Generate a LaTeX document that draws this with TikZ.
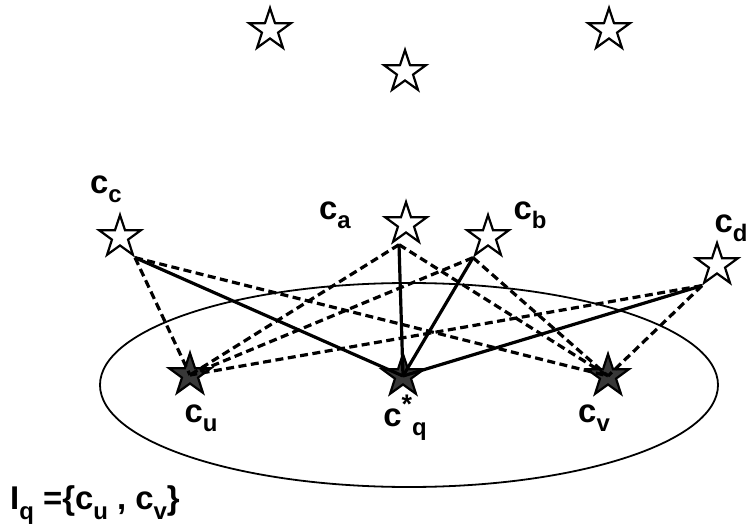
\documentclass[tikz,border=0pt]{standalone}
\usepackage{fontspec}
\setmainfont{Liberation Sans}
\usetikzlibrary{shapes.geometric}

\newcommand{\sbs}[1]{\raisebox{-0.28em}{\fontsize{24}{24}\selectfont #1}}
\newcommand{\sps}[1]{\raisebox{0.4em}{\fontsize{27}{27}\selectfont #1}}

\begin{document}
\begin{tikzpicture}[x=1bp, y=-1bp,
  hollow/.style={star, star points=5, star point ratio=2.6, minimum size=44bp, inner sep=0pt, draw, line width=2.2bp, fill=white},
  darkstar/.style={hollow, fill=black!78},
  lab/.style={font=\fontsize{33}{33}\selectfont\bfseries, inner sep=0pt},
  sol/.style={line width=3.2bp},
  dsh/.style={line width=3.2bp, dash pattern=on 8bp off 4.5bp}]
  \useasboundingbox (0,0) rectangle (747,532);
  \node[ellipse, draw, line width=1.8bp, minimum width=618bp, minimum height=204bp] (disk) at (409,385) {};
  \node[hollow] (t1) at (270,30) {};
  \node[hollow] (t2) at (405,72) {};
  \node[hollow] (t3) at (609,30) {};
  \node[hollow] (cc) at (120,237) {};
  \node[hollow] (ca) at (406,224) {};
  \node[hollow] (cb) at (488,237) {};
  \node[hollow] (cd) at (717,265) {};
  \node[darkstar] (cu) at (190,375) {};
  \node[darkstar] (cq) at (403,376) {};
  \node[darkstar] (cv) at (608,376) {};
  \coordinate (ca0) at ([xshift=8bp]ca.outer point 3);
  \node[lab] (lc) at (106,189) {c\sbs{c}};
  \node[lab] (la) at (335,215) {c\sbs{a}};
  \node[lab] (lb) at (530,215) {c\sbs{b}};
  \node[lab] (ld) at (731,228) {c\sbs{d}};
  \node[lab] (lu) at (201,418) {c\sbs{u}};
  \node[lab] (lq) at (405,418) {c\sps{*}\sbs{q}};
  \node[lab] (lv) at (594,418) {c\sbs{v}};
  \node[lab, anchor=west] (iq) at (10,505) {I\sbs{q} =\{c\sbs{u} , c\sbs{v}\}};
  \draw[sol] (cc.outer point 4) -- (cq.center);
  \draw[sol] (ca0) -- (cq.center);
  \draw[sol] (cb.outer point 3) -- (cq.center);
  \draw[sol] (cd.outer point 3) -- (cq.center);
  \foreach \s in {cc.outer point 4, ca0, cb.outer point 3, cd.outer point 3} {
    \draw[dsh] (\s) -- (cu.center);
    \draw[dsh] (\s) -- (cv.center);
  }
\end{tikzpicture}
\end{document}
